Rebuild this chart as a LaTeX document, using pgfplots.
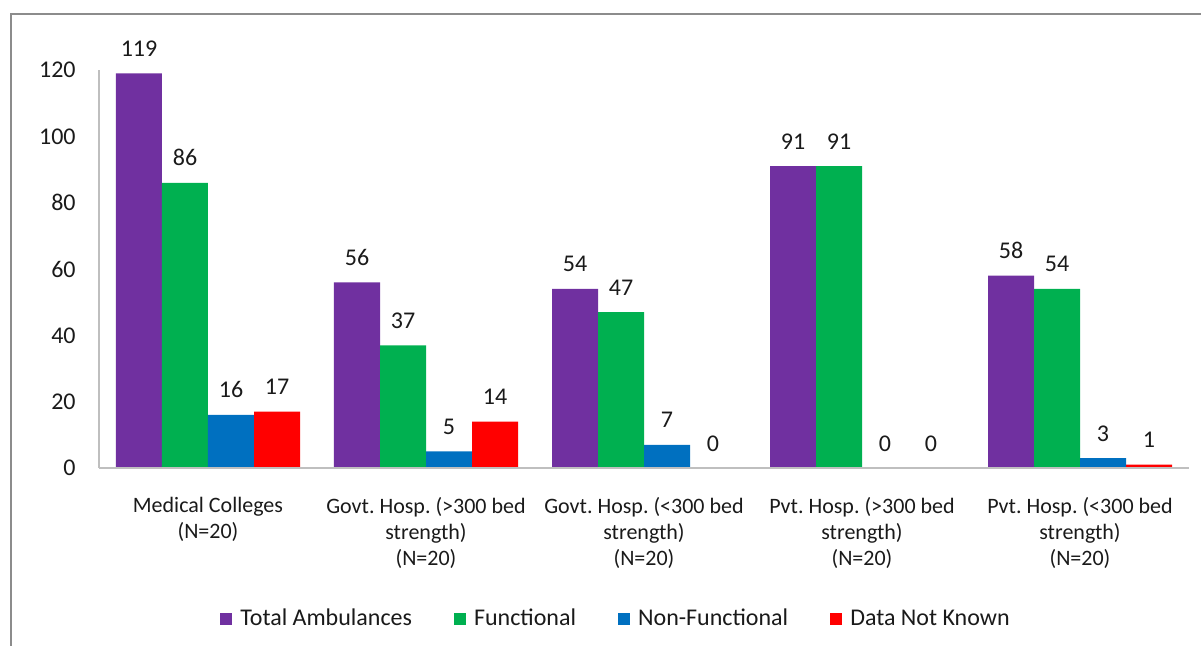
\documentclass[border=0pt]{standalone}
\usepackage{fontspec}
\setmainfont{Carlito}
\usepackage{pgfplots}
\pgfplotsset{compat=1.18}

\definecolor{cTotal}{HTML}{7030A0}
\definecolor{cFunc}{HTML}{00B050}
\definecolor{cNon}{HTML}{0070C0}
\definecolor{cDnk}{HTML}{FF0000}
\definecolor{framegray}{HTML}{8C8C8C}
\definecolor{axisgray}{HTML}{BFBFBF}
\definecolor{txt}{HTML}{1A1A1A}

\begin{document}
\frenchspacing
\begin{tikzpicture}
\useasboundingbox (0,0) rectangle (600.5pt,322.5pt);
% chart frame (only left and top edges are visible)
\draw[framegray, line width=1pt] (5.5pt,-5pt) -- (5.5pt,315.5pt) -- (610pt,315.5pt);
\begin{axis}[
    at={(49.5pt,88.5pt)}, anchor=south west,
    scale only axis,
    width=545pt, height=199pt,
    ybar=0pt, bar width=23pt,
    xmin=-0.5, xmax=4.5,
    ymin=0, ymax=120,
    xtick={0,1,2,3,4},
    xticklabels={
        {Medical Colleges\\(N=20)},
        {Govt. Hosp. (>300 bed\\strength)\\(N=20)},
        {Govt. Hosp. (<300 bed\\strength)\\(N=20)},
        {Pvt. Hosp. (>300 bed\\strength)\\(N=20)},
        {Pvt. Hosp. (<300 bed\\strength)\\(N=20)}},
    ytick={0,20,...,120},
    axis on top,
    axis x line*=bottom, axis y line*=left,
    axis line style={-, draw=axisgray, line width=0.75pt},
    major tick length=0pt,
    tick style={draw=none},
    /pgf/number format/assume math mode=true,
    yticklabel style={font=\fontsize{12}{14}\selectfont, text=txt, inner sep=0pt, xshift=-11.5pt},
    xticklabel style={font=\fontsize{11}{13}\selectfont, text=txt, align=center, anchor=north, inner sep=0pt, yshift=-14.5pt},
    nodes near coords,
    every node near coord/.append style={font=\fontsize{12}{14}\selectfont, text=txt, anchor=base, inner sep=0pt, yshift=8.5pt},
    legend style={at={(0.4752,-0.379)}, anchor=center, legend columns=4, draw=none,
        font=\fontsize{12}{14}\selectfont, text=txt,
        /tikz/every even column/.append style={column sep=19pt},
        /tikz/every odd column/.append style={column sep=2pt}},
    legend image code/.code={\fill[#1] (0pt,-3pt) rectangle (6pt,3pt);},
]
\addplot[fill=cTotal, draw=none] coordinates {(0,119) (1,56) (2,54) (3,91) (4,58)};
\addlegendentry{Total Ambulances}
\addplot[fill=cFunc, draw=none] coordinates {(0,86) (1,37) (2,47) (3,91) (4,54)};
\addlegendentry{Functional}
\addplot[fill=cNon, draw=none] coordinates {(0,16) (1,5) (2,7) (3,0) (4,3)};
\addlegendentry{Non-Functional}
\addplot[fill=cDnk, draw=none] coordinates {(0,17) (1,14) (2,0) (3,0) (4,1)};
\addlegendentry{Data Not Known}
\end{axis}
\end{tikzpicture}
\end{document}
